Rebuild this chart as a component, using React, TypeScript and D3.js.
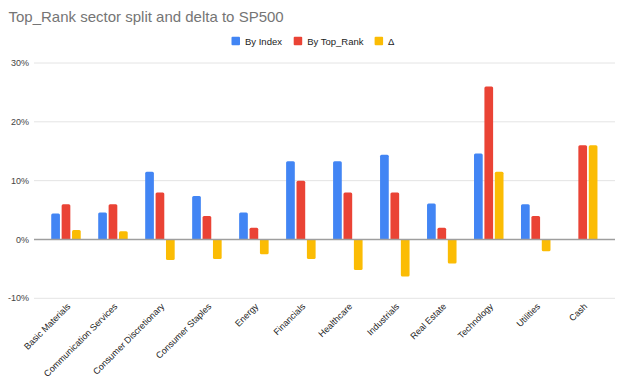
import React from "react";
import * as d3 from "d3";

const categories = [
  "Basic Materials",
  "Communication Services",
  "Consumer Discretionary",
  "Consumer Staples",
  "Energy",
  "Financials",
  "Healthcare",
  "Industrials",
  "Real Estate",
  "Technology",
  "Utilities",
  "Cash",
];
const byIndex = [4.4, 4.6, 11.5, 7.4, 4.6, 13.3, 13.3, 14.4, 6.1, 14.6, 6.0, 0];
const byTopRank = [6, 6, 8, 4, 2, 10, 8, 8, 2, 26, 4, 16];
const delta = [1.6, 1.4, -3.5, -3.3, -2.5, -3.3, -5.2, -6.3, -4.1, 11.5, -2.0, 16];
const yTicks = [-10, 0, 10, 20, 30];
const seriesNames = ["By Index", "By Top_Rank", "Δ"];
const seriesColors = ["#4285F4", "#EA4335", "#FBBC04"];

const W = 625;
const H = 386;
const FONT = "Arial, 'Liberation Sans', Helvetica, sans-serif";

function barPath(x: number, w: number, y0: number, y1: number, r: number) {
  // y0 = baseline, y1 = value end
  if (Math.abs(y1 - y0) < 0.01) return "";
  const up = y1 < y0;
  const rr = Math.min(r, Math.abs(y1 - y0), w / 2);
  if (up) {
    return `M${x},${y0}L${x},${y1 + rr}Q${x},${y1} ${x + rr},${y1}L${x + w - rr},${y1}Q${x + w},${y1} ${x + w},${y1 + rr}L${x + w},${y0}Z`;
  }
  return `M${x},${y0}L${x},${y1 - rr}Q${x},${y1} ${x + rr},${y1}L${x + w - rr},${y1}Q${x + w},${y1} ${x + w},${y1 - rr}L${x + w},${y0}Z`;
}

export default function App() {
  const y = d3.scaleLinear().domain([-10, 30]).range([298.3, 63]);
  const x = d3.scaleBand<string>().domain(categories).range([42.5, 606.2]);
  const gridX0 = 34;
  const gridX1 = 615;
  const barW = 8.7;
  const step = 10.4;
  const series = [byIndex, byTopRank, delta];
  const legendX = [231.5, 293.7, 374.6];

  return (
    <svg
      width={W}
      height={H}
      style={{ position: "absolute", left: 0, top: 0, background: "#fff" }}
      fontFamily={FONT}
    >
      <rect x={0} y={0} width={W} height={H} fill="#fff" />
      <text x={8.5} y={22} fontSize={15} fill="#757575">
        Top_Rank sector split and delta to SP500
      </text>
      {seriesNames.map((n, i) => (
        <g key={n}>
          <rect x={legendX[i]} y={36.7} width={8.5} height={8.5} rx={1} fill={seriesColors[i]} />
          <text x={legendX[i] + 13.5} y={44.5} fontSize={9.5} fill="#222">
            {n}
          </text>
        </g>
      ))}
      {yTicks.map((t) => (
        <g key={t}>
          {t !== 0 && (
            <line x1={gridX0} x2={gridX1} y1={y(t)} y2={y(t)} stroke="#e4e4e4" strokeWidth={1} />
          )}
          <text
            x={29}
            y={y(t)}
            dy="0.35em"
            textAnchor="end"
            fontSize={9}
            fill="#444"
          >
            {`${t}%`}
          </text>
        </g>
      ))}
      {categories.map((c, ci) => {
        const cx = (x(c) as number) + x.bandwidth() / 2;
        return (
          <g key={c}>
            {series.map((s, si) => {
              const bx = cx + (si - 1) * step - barW / 2;
              return (
                <path
                  key={si}
                  d={barPath(bx, barW, y(0), y(s[ci]), 1.5)}
                  fill={seriesColors[si]}
                />
              );
            })}
          </g>
        );
      })}
      <line x1={gridX0} x2={gridX1} y1={y(0)} y2={y(0)} stroke="#9e9e9e" strokeWidth={1.5} />
      {categories.map((c) => {
        const cx = (x(c) as number) + x.bandwidth() / 2;
        const ax = cx + 5;
        const ay = 307;
        return (
          <text
            key={c}
            x={ax}
            y={ay}
            textAnchor="end"
            fontSize={9}
            fill="#222"
            transform={`rotate(-45 ${ax} ${ay})`}
          >
            {c}
          </text>
        );
      })}
    </svg>
  );
}
